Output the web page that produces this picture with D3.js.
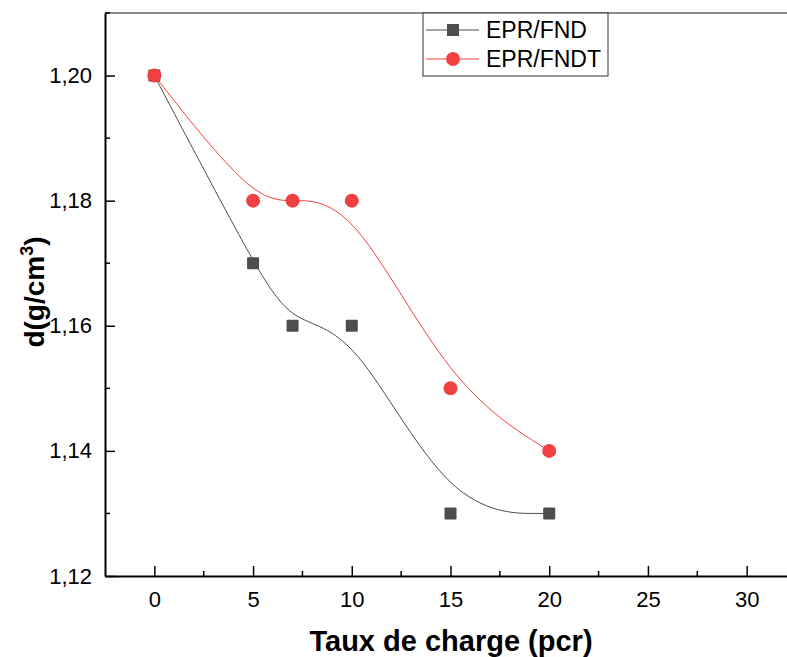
<!DOCTYPE html>
<html>
<head>
<meta charset="utf-8">
<script src="https://cdn.jsdelivr.net/npm/d3@7"></script>
<style>
  body { margin: 0; background: #fff; }
  svg { font-family: "Liberation Sans", Arial, sans-serif; }
</style>
</head>
<body>
<div id="chart"></div>
<script>
// data
var charge = [0, 5, 7, 10, 15, 20];
var fnd = [1.20, 1.17, 1.16, 1.16, 1.13, 1.13];
var fndt = [1.20, 1.18, 1.18, 1.18, 1.15, 1.14];
var xTicks = [0, 5, 10, 15, 20, 25, 30];
var yTicks = [1.12, 1.14, 1.16, 1.18, 1.20];
var seriesNames = ["EPR/FND", "EPR/FNDT"];

var W = 787, H = 657;
var mLeft = 105, mTop = 13, mBottom = 576;

var svg = d3.select("#chart").append("svg")
    .attr("width", W).attr("height", H);

var x = d3.scaleLinear().domain([-2.5, 32.5]).range([mLeft, mLeft + 691]);
var y = d3.scaleLinear().domain([1.12, 1.21]).range([mBottom, mTop]);

var fmt = function(d) { return d3.format(".2f")(d).replace(".", ","); };

// frame top line (grey)
svg.append("line")
    .attr("x1", mLeft).attr("x2", W)
    .attr("y1", y(1.21)).attr("y2", y(1.21))
    .style("stroke", "#666").style("stroke-width", 1.5);

// minor ticks
svg.selectAll(".xminor")
    .data(xTicks.map(function(d) { return d + 2.5; }))
    .enter().append("line")
    .attr("x1", function(d) { return x(d); })
    .attr("x2", function(d) { return x(d); })
    .attr("y1", mBottom).attr("y2", mBottom - 5)
    .style("stroke", "#000").style("stroke-width", 1.5);

svg.selectAll(".yminor")
    .data(yTicks.map(function(d) { return d + 0.01; }))
    .enter().append("line")
    .attr("x1", mLeft).attr("x2", mLeft + 5)
    .attr("y1", function(d) { return y(d); })
    .attr("y2", function(d) { return y(d); })
    .style("stroke", "#000").style("stroke-width", 1.5);

// axes, ticks inside
var xAxis = svg.append("g")
    .attr("transform", "translate(0," + mBottom + ")")
    .call(d3.axisBottom(x).tickValues(xTicks).tickSizeInner(-10).tickSizeOuter(0).tickPadding(15));
var yAxis = svg.append("g")
    .attr("transform", "translate(" + mLeft + ",0)")
    .call(d3.axisLeft(y).tickValues(yTicks).tickFormat(fmt).tickSizeInner(-10).tickSizeOuter(0).tickPadding(13));

[xAxis, yAxis].forEach(function(a) {
  a.select(".domain").style("stroke", "#000").style("stroke-width", 2);
  a.selectAll(".tick line").style("stroke", "#000").style("stroke-width", 1.5);
  a.selectAll("text").style("font-size", "22px").style("fill", "#000")
    .style("font-family", "Liberation Sans, Arial, sans-serif");
});

// axis titles
svg.append("text")
    .attr("x", 451).attr("y", 651)
    .attr("text-anchor", "middle")
    .style("font-size", "29px").style("font-weight", "bold")
    .text("Taux de charge (pcr)");

var yt = svg.append("text")
    .attr("transform", "translate(44,292) rotate(-90)")
    .attr("text-anchor", "middle")
    .style("font-size", "28px").style("font-weight", "bold");
yt.append("tspan").text("d(g/cm");
yt.append("tspan").attr("dy", -11).style("font-size", "18px").text("3");
yt.append("tspan").attr("dy", 11).text(")");

// curves
var line = d3.line()
    .x(function(d) { return x(d[0]); })
    .y(function(d) { return y(d[1]); })
    .curve(d3.curveBasis);

var black = "#4d4d4d", red = "#f04040";

svg.append("path")
    .datum(d3.zip(charge, fnd))
    .attr("d", line)
    .style("fill", "none").style("stroke", black).style("stroke-width", 1);
svg.append("path")
    .datum(d3.zip(charge, fndt))
    .attr("d", line)
    .style("fill", "none").style("stroke", red).style("stroke-width", 1);

// markers
svg.selectAll(".sq")
    .data(d3.zip(charge, fnd))
    .enter().append("rect")
    .attr("x", function(d) { return x(d[0]) - 6; })
    .attr("y", function(d) { return y(d[1]) - 6; })
    .attr("width", 12).attr("height", 12).attr("rx", 1)
    .style("fill", black);

svg.selectAll(".ci")
    .data(d3.zip(charge, fndt))
    .enter().append("circle")
    .attr("cx", function(d) { return x(d[0]); })
    .attr("cy", function(d) { return y(d[1]); })
    .attr("r", 7)
    .style("fill", red);

// legend
var lg = svg.append("g");
lg.append("rect")
    .attr("x", 423).attr("y", 13).attr("width", 185).attr("height", 63)
    .style("fill", "#fff").style("stroke", "#333").style("stroke-width", 1);

var legendRows = [
  { name: seriesNames[0], color: black, shape: "sq", yy: 30 },
  { name: seriesNames[1], color: red, shape: "ci", yy: 59 }
];
legendRows.forEach(function(r) {
  lg.append("line")
    .attr("x1", 426).attr("x2", 479)
    .attr("y1", r.yy).attr("y2", r.yy)
    .style("stroke", r.color).style("stroke-width", 1);
  if (r.shape == "sq") {
    lg.append("rect")
      .attr("x", 447).attr("y", r.yy - 6).attr("width", 12).attr("height", 12)
      .style("fill", r.color);
  } else {
    lg.append("circle")
      .attr("cx", 453).attr("cy", r.yy).attr("r", 7)
      .style("fill", r.color);
  }
  lg.append("text")
    .attr("x", 486).attr("y", r.yy + 8)
    .style("font-size", "23px")
    .text(r.name);
});
</script>
</body>
</html>
